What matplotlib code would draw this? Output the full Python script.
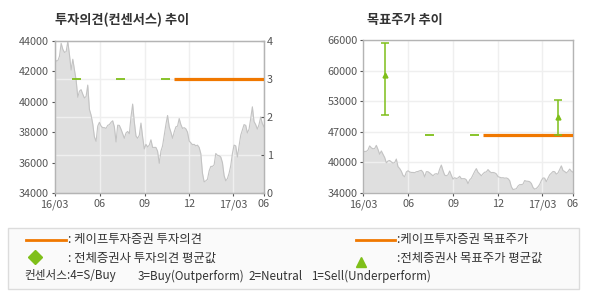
import numpy as np
import pandas as pd
import matplotlib
matplotlib.use("Agg")
from matplotlib import pyplot as plt
from matplotlib.lines import Line2D
from matplotlib.patches import Rectangle
import matplotlib.dates as mdates

plt.rcParams['font.family'] = ['Noto Sans CJK KR', 'DejaVu Sans']

# daily close (sampled), 2016-03 .. 2017-05
price = [42300, 42700, 42700, 43000, 43850, 43450, 43250, 43300, 43960, 43100,
         42090, 42800, 42100, 41430, 40300, 40700, 40800, 40500, 40250, 40350,
         41100, 39500, 39120, 38550, 37690, 37400, 38400, 38650, 38400, 38300,
         38300, 38250, 38450, 38500, 38650, 38750, 38350, 37360, 38460, 38450,
         38200, 37900, 37600, 37950, 38050, 37900, 39000, 39850, 38680, 37750,
         37600, 37800, 38600, 37690, 36900, 37200, 37030, 37150, 37500, 37000,
         37000, 37000, 36750, 35950, 36750, 37100, 37800, 38500, 39100, 38350,
         38000, 37600, 38020, 38350, 38400, 38900, 38500, 38250, 38300, 38220,
         38000, 37420, 37300, 37180, 37200, 37100, 37150, 37000, 36590, 35300,
         34730, 34800, 34900, 35450, 35750, 35750, 35850, 36600, 36480, 36450,
         36370, 36000, 35150, 34800, 34950, 35300, 35800, 36600, 37150, 37100,
         36370, 37100, 37800, 38150, 38500, 38450, 37950, 38200, 38900, 39670,
         38700, 38500, 38200, 38500, 39000, 38570, 38350]
price_start, price_end = "2016-03-01", "2017-05-03"

# consensus average opinion (short segments)
avg_from = ["2016-04-06", "2016-07-05", "2016-10-05"]
avg_to = ["2016-04-24", "2016-07-23", "2016-10-23"]
avg_opinion = [3, 3, 3]
avg_target = [None, 46200, 46200]

# Cape opinion / target
cape_from, cape_to = "2016-10-31", "2017-05-02"
cape_opinion = 3
cape_target = 46200

# consensus target range (mean, low, high)
rng_dates = ["2016-04-15", "2017-04-02"]
rng_mean = [58600, 49900]
rng_low = [50250, 46200]
rng_high = [65300, 53400]

xt_dates = ["2016-03-01", "2016-06-01", "2016-09-01", "2016-12-01", "2017-03-01", "2017-05-03"]
xt_labels = ["16/03", "06", "09", "12", "17/03", "06"]

left_ticks = [34000, 36000, 38000, 40000, 42000, 44000]
right_ticks = [0, 1, 2, 3, 4]
tp_ticks = list(np.linspace(34000, 66000, 6))
tp_labels = ["34000", "40000", "47000", "53000", "60000", "66000"]

consensus_keys = ["컨센서스:4=S/Buy", "3=Buy(Outperform)", "2=Neutral", "1=Sell(Underperform)"]

ORANGE = "#f07800"
GREEN = "#7fbf1a"
TXT = "#555555"
SPINE = "#b4b4b4"
GRID = "#efefef"

W, H = 590, 300
fig = plt.figure(figsize=(W / 100, H / 100), dpi=100)
fig.patch.set_facecolor("white")

def px(x, y):
    return x / W, 1 - y / H

dates = pd.date_range(price_start, price_end, periods=len(price))
d = lambda s: mdates.date2num(pd.Timestamp(s))
xt = [d(s) for s in xt_dates]

def style(ax):
    for s in ax.spines.values():
        s.set_color(SPINE)
        s.set_linewidth(1)
    ax.set_xlim(xt[0], xt[-1])
    ax.set_xticks(xt)
    ax.set_xticklabels(xt_labels)
    ax.tick_params(axis="both", labelsize=7.8, colors=TXT, length=2.5, width=0.8, pad=1.5)
    ax.tick_params(axis="x", pad=2)
    ax.grid(axis="x", color=GRID, lw=1)
    ax.set_axisbelow("line")

# ---------- left: opinion ----------
axl = fig.add_axes([54.5 / W, 1 - 193 / H, 209.5 / W, 152 / H])
axl.fill_between(dates, price, 34000, color="#dfdfdf", lw=0, zorder=1)
axl.plot(dates, price, color="#c3c3c3", lw=0.8, zorder=2)
axl.set_ylim(34000, 44000)
axl.set_yticks(left_ticks)
style(axl)
axr = axl.twinx()
axr.set_ylim(0, 4)
axr.set_yticks(right_ticks)
axr.tick_params(axis="y", labelsize=7.8, colors=TXT, length=2.5, width=0.8, pad=2, direction="in")
for s in axr.spines.values():
    s.set_color(SPINE)
axr.patch.set_visible(False)
# gridlines of the opinion scale, drawn over the price area
for t in right_ticks[1:-1]:
    axl.axhline(34000 + t * 2500, color=GRID, lw=1, zorder=1.5)
for a, b, v in zip(avg_from, avg_to, avg_opinion):
    axr.plot([d(a), d(b)], [v, v], color=GREEN, lw=1.3, solid_capstyle="butt")
axr.plot([d(cape_from), d(cape_to)], [cape_opinion] * 2, color=ORANGE, lw=2.3, solid_capstyle="butt")

fig.text(*px(55, 20), "투자의견(컨센서스) 추이", fontsize=9.5, fontweight="bold",
         color="#333333", va="center", ha="left")

# ---------- right: target price ----------
ax2 = fig.add_axes([363 / W, 1 - 193 / H, 210 / W, 153 / H])
ax2.fill_between(dates, price, 34000, color="#dfdfdf", lw=0, zorder=1)
ax2.plot(dates, price, color="#c3c3c3", lw=0.8, zorder=2)
ax2.set_ylim(34000, 66000)
ax2.set_yticks(tp_ticks)
ax2.set_yticklabels(tp_labels)
style(ax2)
ax2.grid(axis="y", color=GRID, lw=1)
for a, b, v in zip(avg_from, avg_to, avg_target):
    if v is not None:
        ax2.plot([d(a), d(b)], [v, v], color=GREEN, lw=1.3, solid_capstyle="butt", zorder=3)
ax2.plot([d(cape_from), d(cape_to)], [cape_target] * 2, color=ORANGE, lw=2.3,
         solid_capstyle="butt", zorder=3)
rx = [d(s) for s in rng_dates]
yerr = [np.subtract(rng_mean, rng_low), np.subtract(rng_high, rng_mean)]
ax2.errorbar(rx, rng_mean, yerr=yerr, fmt="^", color=GREEN, ms=3.5, elinewidth=1.1,
             capsize=3.2, capthick=1.1, zorder=4)

fig.text(*px(367, 20), "목표주가 추이", fontsize=9.5, fontweight="bold",
         color="#333333", va="center", ha="left")

# ---------- legend box ----------
x0, y0 = px(8, 289)
fig.add_artist(Rectangle((x0, y0), 571 / W, 61 / H, transform=fig.transFigure,
                         facecolor="#fafafa", edgecolor="#dcdcdc", lw=1))
fig.add_artist(Line2D([26 / W, 66 / W], [1 - 239.5 / H] * 2, color=ORANGE, lw=2,
                      transform=fig.transFigure))
fig.add_artist(Line2D([356 / W, 395 / W], [1 - 239.5 / H] * 2, color=ORANGE, lw=2,
                      transform=fig.transFigure))
fig.add_artist(Line2D([35 / W], [1 - 257 / H], marker="D", ms=7.5, color=GREEN, lw=0,
                      transform=fig.transFigure))
fig.add_artist(Line2D([361 / W], [1 - 262 / H], marker="^", ms=7, color=GREEN, lw=0,
                      transform=fig.transFigure))
lk = dict(fontsize=8.9, color="#333333", va="center", ha="left")
fig.text(*px(68, 240), ": 케이프투자증권 투자의견", **lk)
fig.text(*px(68, 258), ": 전체증권사 투자의견 평균값", **lk)
fig.text(*px(397, 240), ":케이프투자증권 목표주가", **lk)
fig.text(*px(397, 258), ":전체증권사 목표주가 평균값", **lk)
for xk, s in zip([24, 138, 248, 311], consensus_keys):
    fig.text(*px(xk, 276), s, fontsize=8.4, color="#333333", va="center", ha="left")

fig.savefig("out.png", dpi=100)
